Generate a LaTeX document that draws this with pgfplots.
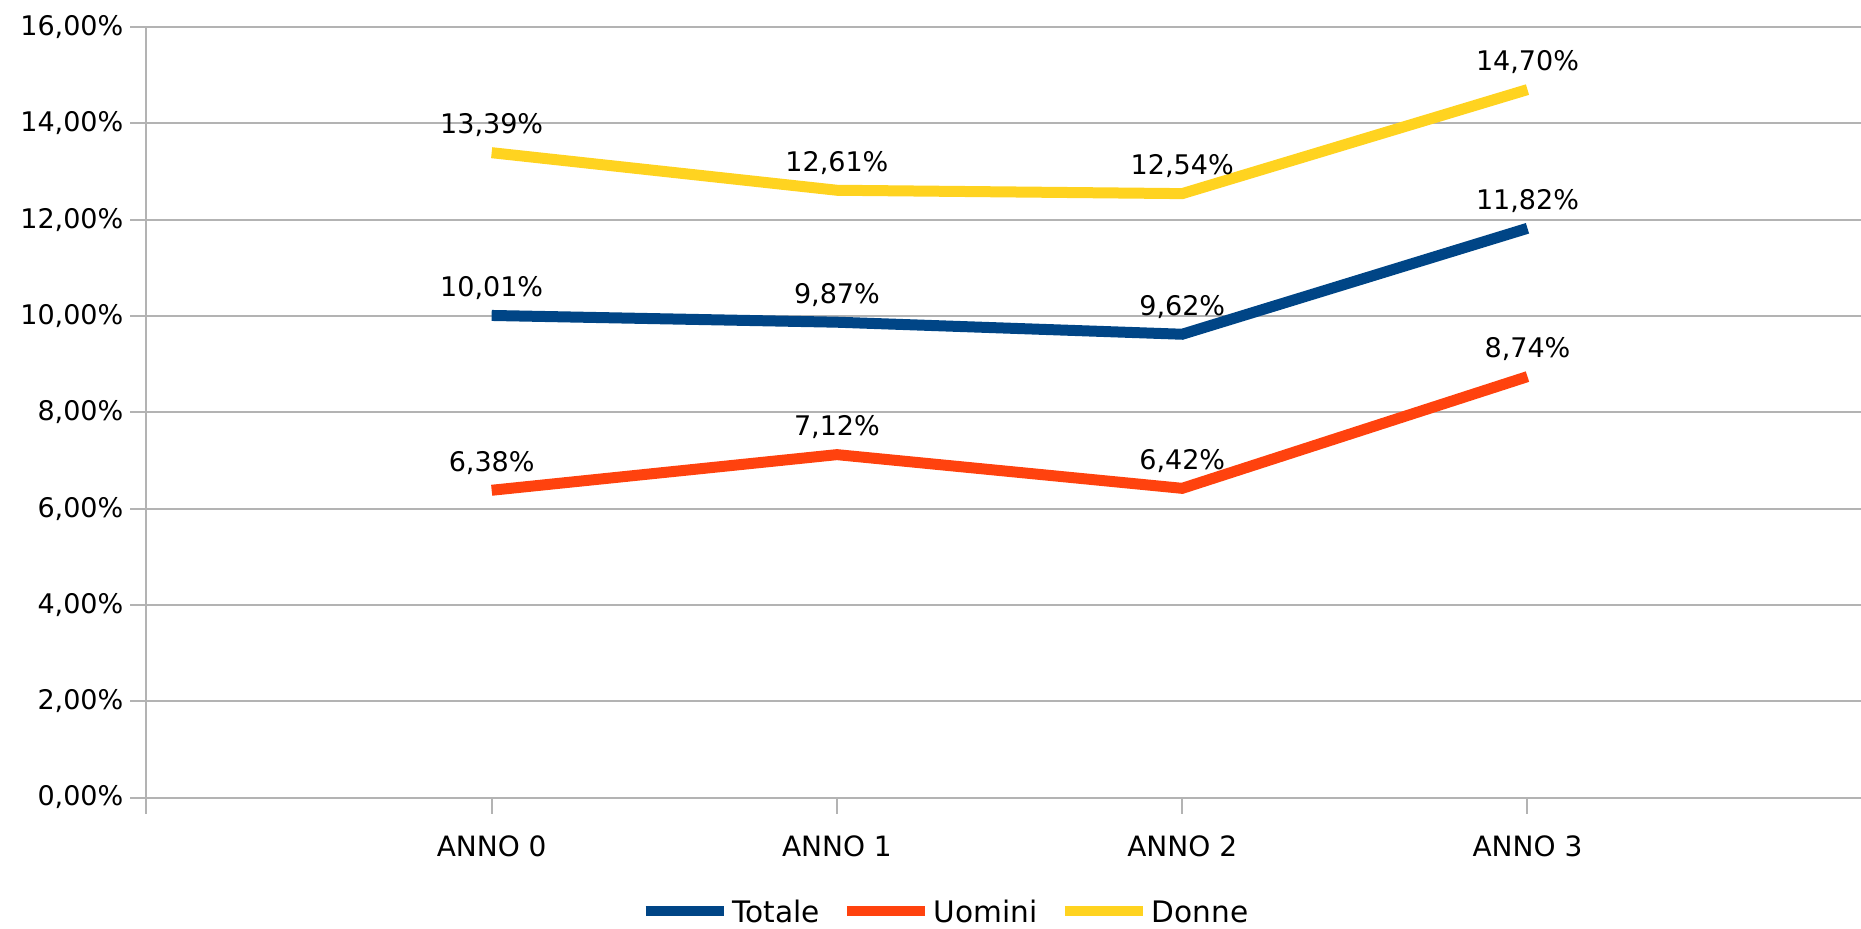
\documentclass[border=0pt]{standalone}
\usepackage{pgfplots}
\pgfplotsset{compat=1.18}
\usepackage{fontspec}
\setmainfont{DejaVu Sans}
\usetikzlibrary{calc}
\definecolor{ctot}{HTML}{004586}
\definecolor{cuom}{HTML}{FF420E}
\definecolor{cdon}{HTML}{FFD320}
\definecolor{cgrid}{HTML}{B3B3B3}
\newcommand{\numfont}{\fontsize{13.5}{16}\selectfont}
\newcommand{\txtfont}{\fontsize{14}{17}\selectfont}
\newcommand{\legfont}{\fontsize{14.8}{17}\selectfont}
\begin{document}
\begin{tikzpicture}
\begin{axis}[
  name=ax,
  scale only axis,
  width=857.3pt, height=385.25pt,
  xmin=-1, xmax=3.966, ymin=0, ymax=16,
  clip=false,
  xtick={-1,0,1,2,3},
  xticklabels={,ANNO 0,ANNO 1,ANNO 2,ANNO 3},
  ytick={0,2,...,16},
  /pgf/number format/assume math mode=true,
  yticklabel={\pgfmathprintnumber[fixed,fixed zerofill,precision=2,use comma]{\tick}\%},
  ymajorgrids,
  major grid style={cgrid, line width=1pt},
  axis x line*=bottom, axis y line*=left,
  axis line style={cgrid, line width=1pt, -},
  tick align=outside,
  major tick length=8pt,
  tick style={cgrid, line width=1pt},
  yticklabel style={font=\numfont, text=black},
  xticklabel style={font=\txtfont, text=black, yshift=-7.5pt},
  legend columns=3,
  legend style={at={(0.2880,-0.1500)}, anchor=west, draw=none, fill=none,
    inner sep=0pt, font=\legfont, text=black,
    nodes={inner sep=0pt},
    /tikz/every odd column/.append style={column sep=2pt},
    /tikz/every even column/.append style={column sep=11pt}},
  legend image code/.code={\draw[#1, line width=5pt] (0pt,1.2pt) -- (39pt,1.2pt);},
  nodes near coords,
  point meta=explicit symbolic,
  every node near coord/.append style={anchor=base, yshift=9.5pt, inner sep=0pt, font=\numfont, text=black},
]
\addplot[ctot, line width=5.5pt] coordinates {(0,10.01)[10{,}01\%] (1,9.87)[9{,}87\%] (2,9.62)[9{,}62\%] (3,11.82)[11{,}82\%]};
\addlegendentry{Totale}
\addplot[cuom, line width=5.5pt] coordinates {(0,6.38)[6{,}38\%] (1,7.12)[7{,}12\%] (2,6.42)[6{,}42\%] (3,8.74)[8{,}74\%]};
\addlegendentry{Uomini}
\addplot[cdon, line width=5.5pt] coordinates {(0,13.39)[13{,}39\%] (1,12.61)[12{,}61\%] (2,12.54)[12{,}54\%] (3,14.70)[14{,}70\%]};
\addlegendentry{Donne}
\end{axis}
\pgfresetboundingbox
\path[use as bounding box] ($(ax.south west)+(-73.2pt,-65.25pt)$) rectangle ($(ax.north east)+(0pt,13.5pt)$);
\end{tikzpicture}
\end{document}
